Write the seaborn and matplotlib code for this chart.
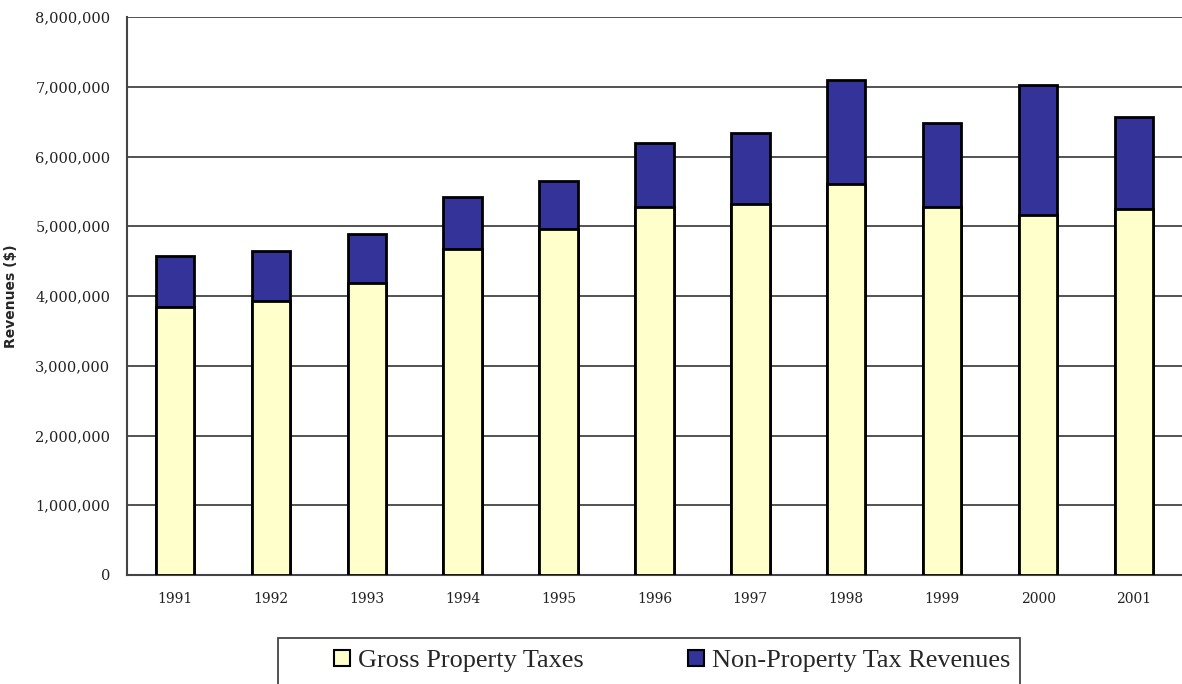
import matplotlib
matplotlib.use("Agg")
import matplotlib.pyplot as plt
import matplotlib.patches as mpatches
from matplotlib.ticker import FuncFormatter
import seaborn as sns
import pandas as pd

# Revenue data (dollars)
years = ["1991", "1992", "1993", "1994", "1995", "1996",
         "1997", "1998", "1999", "2000", "2001"]
gross_property_taxes = [3840000, 3930000, 4180000, 4680000, 4960000, 5270000,
                        5320000, 5600000, 5270000, 5160000, 5250000]
non_property_revenues = [740000, 710000, 710000, 740000, 690000, 920000,
                         1020000, 1490000, 1210000, 1870000, 1310000]
y_ticks = [0, 1000000, 2000000, 3000000, 4000000, 5000000, 6000000, 7000000, 8000000]

totals = [g + n for g, n in zip(gross_property_taxes, non_property_revenues)]
df = pd.DataFrame({"year": years, "gross": gross_property_taxes, "total": totals})

YELLOW = "#FFFFCC"
NAVY = "#333399"
W, H = 1182, 684

sns.set_style("white")
plt.rcParams["font.family"] = ["DejaVu Serif", "Liberation Serif"]

fig = plt.figure(figsize=(W / 100, H / 100), dpi=100)
ax = fig.add_axes([127 / W, 1 - 575 / H, 1 - 127 / W, (575 - 17) / H])

# Stacked bars: full total in navy, gross property taxes drawn over it
sns.barplot(data=df, x="year", y="total", color=NAVY, saturation=1, width=0.4,
            edgecolor="black", linewidth=2, ax=ax, zorder=3)
sns.barplot(data=df, x="year", y="gross", color=YELLOW, saturation=1, width=0.4,
            edgecolor="black", linewidth=2, ax=ax, zorder=4)

ax.set_xlim(-0.5, len(years) - 0.5)
ax.set_ylim(0, 8000000)
ax.set_yticks(y_ticks)
ax.yaxis.set_major_formatter(FuncFormatter(lambda v, p: f"{int(v):,}"))
ax.grid(axis="y", color="#444444", linewidth=1.3, zorder=1)
ax.set_axisbelow(True)

# Tick marks between categories on the x axis
ax.set_xticks(range(len(years)))
ax.set_xticklabels(years)
ax.set_xticks([i + 0.5 for i in range(len(years) - 1)], minor=True)
ax.tick_params(axis="x", which="major", length=0, pad=12, labelsize=10, labelcolor="#222222")
ax.tick_params(axis="x", which="minor", length=4, width=1, color="#444444", direction="out")
ax.tick_params(axis="y", length=4, width=1, color="#444444", direction="out",
               labelsize=10.5, pad=8, labelcolor="#222222")

for side in ["top", "right"]:
    ax.spines[side].set_visible(False)
for side in ["left", "bottom"]:
    ax.spines[side].set_color("#444444")
    ax.spines[side].set_linewidth(1.5)

ax.set_xlabel("")
ax.set_ylabel("Revenues ($)", fontsize=10, fontweight="bold", family=["DejaVu Sans"])
ax.yaxis.set_label_coords(-(127 - 18) / (W - 127), 0.5)

# Legend box below the plot
fig.patches.append(mpatches.Rectangle((278 / W, -0.05), (1020 - 278) / W, 0.05 + 1 - 638 / H,
                                      transform=fig.transFigure, facecolor="white",
                                      edgecolor="#444444", linewidth=1.3))
handles = [mpatches.Patch(facecolor=YELLOW, edgecolor="black", linewidth=1.5,
                          label="Gross Property Taxes"),
           mpatches.Patch(facecolor=NAVY, edgecolor="black", linewidth=1.5,
                          label="Non-Property Tax Revenues")]
fig.legend(handles=handles, ncol=2, loc="center left",
           bbox_to_anchor=(334 / W, 1 - 661 / H),
           prop={"family": ["Liberation Serif"], "size": 18.9}, frameon=False,
           handlelength=0.6, handleheight=0.6, handletextpad=0.3,
           borderaxespad=0, borderpad=0, columnspacing=4.0)

fig.savefig("out.png", dpi=100)
